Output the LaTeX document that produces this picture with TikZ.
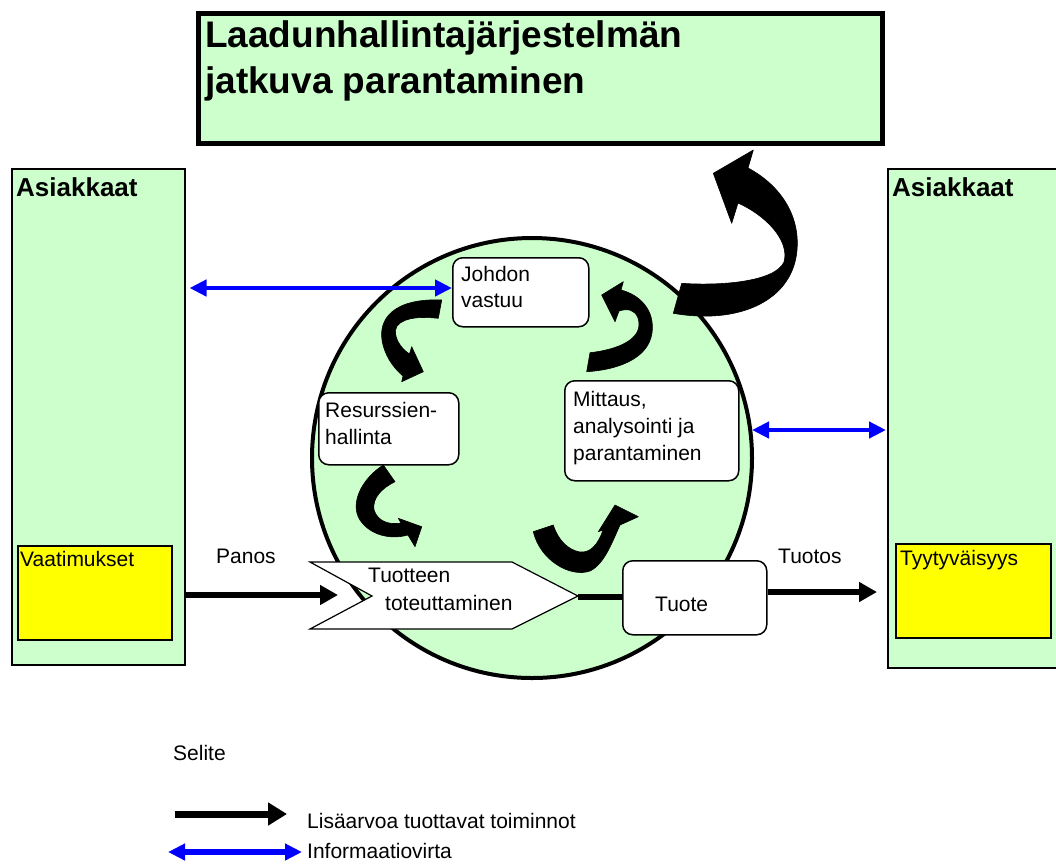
\documentclass[tikz,border=0pt]{standalone}
\usepackage{fontspec}
\setmainfont{Liberation Sans}
\usetikzlibrary{arrows.meta}
\definecolor{paleGreen}{HTML}{CCFFCC}
\definecolor{reqYellow}{HTML}{FFFF00}
\definecolor{infoBlue}{HTML}{0000FF}

\begin{document}
\begin{tikzpicture}[x=1pt,y=-1pt,
  txt/.style={anchor=base west, inner sep=0pt, font=\fontsize{21}{25}\selectfont},
  headtxt/.style={anchor=base west, inner sep=0pt, font=\bfseries\fontsize{26}{30}\selectfont},
  titletxt/.style={anchor=base west, inner sep=0pt, font=\bfseries\fontsize{37}{44}\selectfont},
  custbox/.style={draw=black, line width=1.5pt, fill=paleGreen, anchor=north west, inner sep=0pt},
  reqbox/.style={draw=black, line width=1.5pt, fill=reqYellow, anchor=north west, inner sep=0pt},
  procbox/.style={draw=black, line width=1.5pt, fill=white, rounded corners=10pt, anchor=north west, inner sep=0pt},
  valueflow/.style={line width=5.5pt, -{Triangle[length=18pt,width=19pt]}},
  legendflow/.style={line width=7pt, -{Triangle[length=19pt,width=22pt]}},
  infoflow/.style={draw=infoBlue, line width=4.5pt, {Triangle[length=17pt,width=16pt]}-{Triangle[length=17pt,width=16pt]}},
  bendarrow/.style={fill=black, draw=black, line width=0.6pt, line join=round},
]
\useasboundingbox (0,0) rectangle (1056,863);

% title banner
\node[draw=black, line width=5pt, fill=paleGreen, anchor=north west, inner sep=0pt,
      minimum width=684pt, minimum height=130pt] (title) at (195.5,10.5) {};
\node[titletxt] (title1) at (205,47) {Laadunhallintajärjestelmän};
\node[titletxt] (title2) at (205,93) {jatkuva parantaminen};

% customers on both sides
\node[custbox, minimum width=173pt, minimum height=496pt] (asL) at (11,168) {};
\node[headtxt] (asLtxt) at (16,196) {Asiakkaat};
\begin{scope}
  \clip (0,0) rectangle (1056,863);
  \node[custbox, minimum width=180pt, minimum height=499pt] (asR) at (887,168) {};
\end{scope}
\node[headtxt] (asRtxt) at (892,196) {Asiakkaat};

\node[reqbox, minimum width=154pt, minimum height=94pt] (req) at (17,545) {};
\node[txt] (reqtxt) at (20,566) {Vaatimukset};
\node[reqbox, minimum width=155pt, minimum height=94pt] (sat) at (895,543) {};
\node[txt] (sattxt) at (900,565) {Tyytyväisyys};

% process circle
\node[circle, draw=black, line width=4pt, fill=paleGreen, minimum size=440pt, inner sep=0pt] (loop) at (532,458) {};

% curved process arrows inside the circle
\path[bendarrow] (441.7,300) .. controls (395,298) and (376,318) .. (383,345)
  .. controls (387,360) and (396,370) .. (403,376) -- (401.7,381.7) -- (423.3,371.7)
  -- (411.7,346.7) -- (409.5,354) .. controls (400,348) and (392,335) .. (397,326)
  .. controls (405,316) and (425,317) .. (438.3,318.3) -- cycle;
\path[bendarrow] (383.3,465) .. controls (360,480) and (350,505) .. (360,520)
  .. controls (370,535) and (390,540) .. (408,535) -- (415,546.7) -- (421.7,526.7)
  -- (398.3,518.3) -- (401,523) .. controls (390,525) and (378,522) .. (374,510)
  .. controls (372,498) and (382,488) .. (395,481.7) -- cycle;
\path[bendarrow] (533.3,531.7) .. controls (540,560) and (570,578) .. (590,571)
  .. controls (604,564) and (611,545) .. (620,525) -- (638.3,516.7) -- (615,505)
  -- (598.3,531.7) -- (603,530) .. controls (598,545) and (590,553) .. (580,552)
  .. controls (568,550) and (558,540) .. (553.3,525) -- cycle;
\path[bendarrow] (590,352.7) .. controls (615,350) and (645,340) .. (638,318)
  .. controls (635,310) and (628,308) .. (619,311) -- (615,321.7) -- (601.7,295)
  -- (623.3,281.7) -- (621,290) .. controls (640,295) and (655,310) .. (652,333)
  .. controls (648,360) and (615,370) .. (586.7,371.7) -- cycle;
% improvement arrow leaving the circle
\path[bendarrow] (681.7,283.3) .. controls (720,286) and (775,282) .. (784,262)
  .. controls (790,240) and (765,215) .. (738,203) -- (731.7,223.3) -- (713.3,173.3)
  -- (753.3,150) -- (748,168) .. controls (780,185) and (800,215) .. (797,250)
  .. controls (793,300) and (740,325) .. (673.3,313.3) -- cycle;

% process steps
\node[procbox, minimum width=136pt, minimum height=69pt] (johdon) at (452,257) {};
\node[txt] (johdon1) at (461,281) {Johdon};
\node[txt] (johdon2) at (461,307) {vastuu};

\node[procbox, minimum width=140pt, minimum height=72pt] (resurssi) at (318,392) {};
\node[txt] (resurssi1) at (325,417) {Resurssien-};
\node[txt] (resurssi2) at (325,444) {hallinta};

\node[procbox, minimum width=174pt, minimum height=100pt] (mittaus) at (564,380) {};
\node[txt] (mittaus1) at (573,406) {Mittaus,};
\node[txt] (mittaus2) at (573,433) {analysointi ja};
\node[txt] (mittaus3) at (573,460) {parantaminen};

\node[procbox, minimum width=144pt, minimum height=74pt] (tuote) at (622,560) {};
\node[txt] (tuotetxt) at (655,611) {Tuote};

% product realisation chevron
\draw[black, line width=1.2pt, fill=white, line join=miter]
  (310,562) -- (512,562) -- (578,596) -- (512,629) -- (310,629) -- (372,596) -- cycle;
\coordinate (chevtip) at (578,597);
\coordinate (chevnotch) at (372,596);
\node[txt] (real1) at (368,582) {Tuotteen};
\node[txt] (real2) at (385,610) {toteuttaminen};
\draw[line width=5.5pt] (chevtip) -- (tuote.west |- chevtip);

% input and output
\coordinate (panosEnd) at (338,595);
\draw[valueflow] (asL.east |- panosEnd) -- (panosEnd);
\node[txt] (panos) at (216,563) {Panos};
\coordinate (tuotosEnd) at (877,592);
\draw[valueflow] (tuote.east |- tuotosEnd) -- (tuotosEnd);
\node[txt] (tuotos) at (778,563) {Tuotos};

% information flows
\coordinate (infoTop) at (0,288);
\draw[infoflow] ([xshift=4pt]asL.east |- infoTop) -- (johdon.west |- infoTop);
\coordinate (infoRight) at (0,430);
\draw[infoflow] (752,430) -- ([xshift=-1pt]asR.west |- infoRight);

% legend
\node[txt] (selite) at (173,760) {Selite};
\coordinate (lgA1) at (175,814);
\coordinate (lgA2) at (287,814);
\draw[legendflow] (lgA1) -- (lgA2);
\node[txt] (lgAtxt) at (307,828) {Lisäarvoa tuottavat toiminnot};
\coordinate (lgB1) at (168,852);
\coordinate (lgB2) at (302,852);
\draw[infoflow, line width=6pt] (lgB1) -- (lgB2);
\node[txt] (lgBtxt) at (307,858) {Informaatiovirta};
\end{tikzpicture}
\end{document}
